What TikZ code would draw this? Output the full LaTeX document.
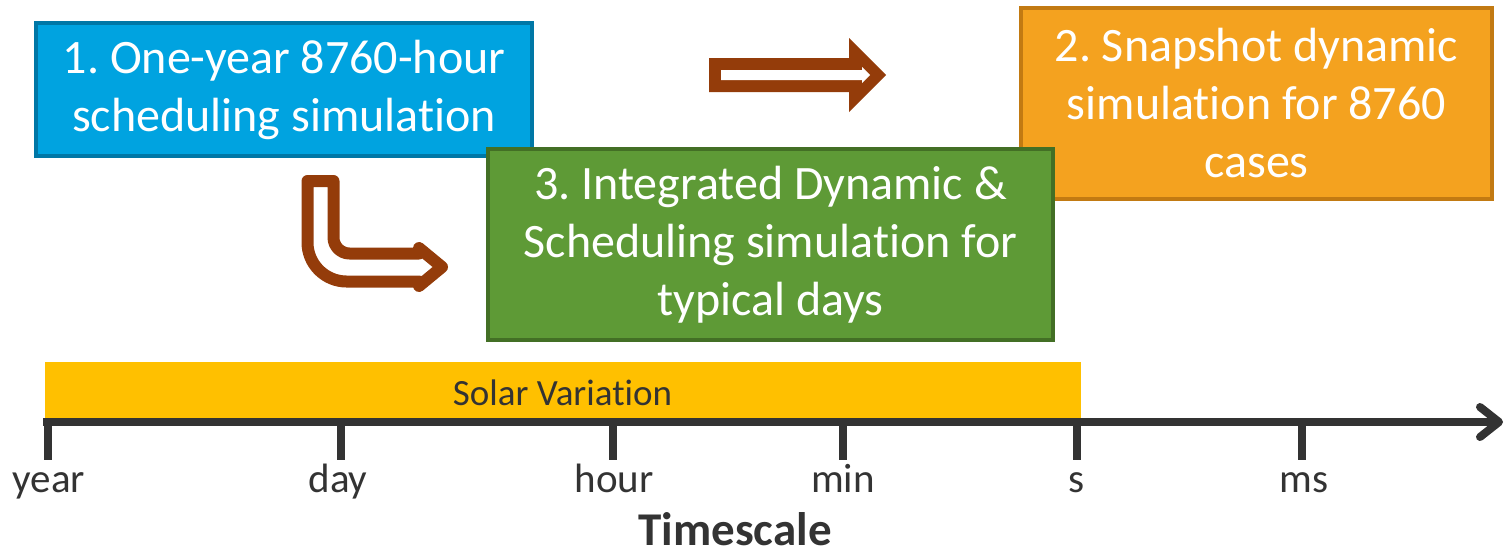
\documentclass[tikz,border=0pt]{standalone}
\usepackage{fontspec}
\setmainfont{Carlito}[Ligatures=NoCommon]
\frenchspacing
\definecolor{boxblue}{HTML}{00A3E0}
\definecolor{boxblueb}{HTML}{0077A6}
\definecolor{boxorange}{HTML}{F4A21F}
\definecolor{boxorangeb}{HTML}{C27A12}
\definecolor{boxgreen}{HTML}{5E9A36}
\definecolor{boxgreenb}{HTML}{436F25}
\definecolor{solar}{HTML}{FFC000}
\definecolor{arrowbrown}{HTML}{943C0A}
\definecolor{axisgray}{HTML}{333333}
\begin{document}
\begin{tikzpicture}[x=1pt,y=-1pt,
  stagebox/.style={draw, line width=4pt, text=white, align=center,
    font=\fontsize{48}{58}\selectfont, inner sep=0pt},
  axisline/.style={draw=axisgray, line width=8pt},
  axtick/.style={draw=axisgray, line width=8pt},
  axlabel/.style={anchor=base, inner sep=0pt, text=axisgray, font=\fontsize{41}{49}\selectfont},
  hollowarrow/.style={draw=arrowbrown, line width=12pt, line join=round}
]
\useasboundingbox (0,0) rectangle (1505,550);

% stage boxes
\node[stagebox, fill=boxblue, draw=boxblueb, minimum width=496pt, minimum height=133pt]
  (s1) at (284,89.5) {1. One-year 8760-hour\\scheduling simulation};
\node[stagebox, fill=boxorange, draw=boxorangeb, minimum width=471pt, minimum height=191pt]
  (s2) at (1256.5,103.5) {2. Snapshot dynamic\\simulation for 8760\\cases};
\node[stagebox, fill=boxgreen, draw=boxgreenb, minimum width=565pt, minimum height=191pt]
  (s3) at (770.5,244.5) {3. Integrated Dynamic \&\\Scheduling simulation for\\typical days};

% straight hollow arrow
\fill[arrowbrown] (709,58) -- (849,58) -- (849,38) -- (886,75) -- (849,112) -- (849,92) -- (709,92) -- cycle;
\fill[white] (721,70) -- (862,70) -- (862,67) -- (870,75) -- (862,83) -- (862,80) -- (721,80) -- cycle;

% bent hollow arrow
\draw[hollowarrow] (307.5,181) -- (333.5,181) -- (333.5,237.5)
  .. controls (333.5,246.3) and (340.7,253.5) .. (349.5,253.5)
  -- (419,253.5) -- (419,248) -- (442,267) -- (419,286) -- (419,281.5)
  -- (346.5,281.5) .. controls (325,281.5) and (307.5,264) .. (307.5,242.5) -- cycle;

% solar variation bar
\fill[solar] (45,362) rectangle (1081,418);
\node[anchor=base, inner sep=0pt, text=axisgray, font=\fontsize{37}{44}\selectfont]
  (solartxt) at (562.5,405) {Solar Variation};

% axis
\coordinate (ax0) at (43,422);
\coordinate (ax1) at (1499,422);
\draw[axisline] (ax0) -- (ax1);
\draw[axisline, line cap=round, line join=round] (1480,407) -- (ax1) -- (1480,437);

\foreach \x/\lx/\lab/\n in {47.5/49/year/y, 341/338/day/d, 613/614/hour/h, 843/843/min/m, 1077/1077/s/s, 1302/1304/ms/ms}{
  \draw[axtick] (\x,422) -- (\x,460);
  \node[axlabel] (lab\n) at (\lx,492) {\lab};
}

\node[anchor=base, inner sep=0pt, text=axisgray, font=\fontsize{47}{56}\selectfont\bfseries]
  (timescale) at (735,545) {Timescale};
\end{tikzpicture}
\end{document}
